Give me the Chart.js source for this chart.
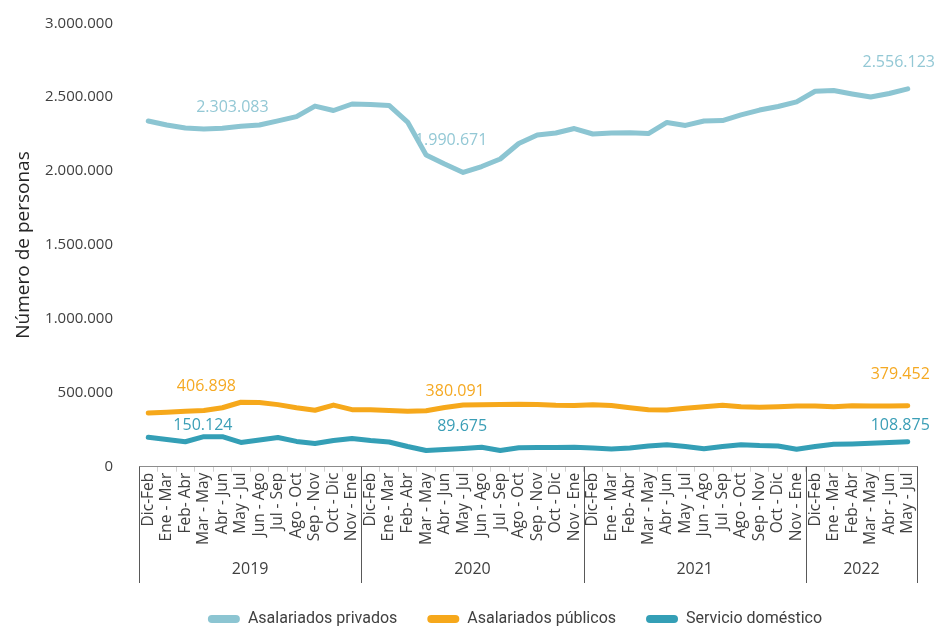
<!DOCTYPE html>
<html>
<head>
<meta charset="utf-8">
<script src="https://cdn.jsdelivr.net/npm/chart.js@4"></script>
<style>
  html, body { margin: 0; padding: 0; background: #ffffff; }
  canvas { display: block; }
</style>
</head>
<body>
<canvas id="chart" width="945" height="626"></canvas>
<script>
// ---------- DATA ----------
const periodNames = ['Dic-Feb', 'Ene - Mar', 'Feb- Abr', 'Mar - May', 'Abr - Jun', 'May - Jul',
                     'Jun - Ago', 'Jul - Sep', 'Ago - Oct', 'Sep - Nov', 'Oct - Dic', 'Nov - Ene'];
const years = ['2019', '2020', '2021', '2022'];
const periodsPerYear = [12, 12, 12, 6];

const categories = [
  ...periodNames, ...periodNames, ...periodNames, ...periodNames.slice(0, 6)
];

const seriesNames = ['Asalariados privados', 'Asalariados públicos', 'Servicio doméstico'];

const asalariadosPrivados = [
  2339000, 2312000, 2292000, 2285000, 2290000, 2303083, 2312000, 2340000, 2369000, 2440000, 2410000, 2454000,
  2451000, 2444000, 2332000, 2109000, 2048000, 1990671, 2031000, 2082000, 2187000, 2244000, 2258000, 2288000,
  2251000, 2258000, 2260000, 2254000, 2329000, 2309000, 2339000, 2342000, 2380000, 2413000, 2437000, 2468000,
  2540000, 2545000, 2522000, 2501000, 2525000, 2556123
];

const asalariadosPublicos = [
  363000, 369000, 375000, 380000, 399000, 436000, 434000, 420000, 399000, 382000, 417000, 386000,
  386000, 381000, 376000, 378000, 401000, 417000, 419000, 420000, 422000, 421000, 416000, 414000,
  419000, 414000, 399000, 386000, 384000, 395000, 405000, 416000, 405000, 403000, 406000, 411000,
  411000, 405000, 412000, 411000, 411000, 413000
];

const servicioDomestico = [
  199000, 184000, 169000, 203000, 203000, 164000, 181000, 198000, 171000, 157000, 177000, 191000,
  177000, 167000, 137000, 110000, 116000, 123000, 131000, 110000, 128000, 130000, 130000, 131000,
  127000, 120000, 127000, 140000, 149000, 137000, 122000, 137000, 149000, 143000, 140000, 118000,
  137000, 152000, 154000, 158000, 164000, 169000
];

// data labels shown in the chart (category index and text)
const labelIndexes = [5, 17, 41];
const privadosLabels = ['2.303.083', '1.990.671', '2.556.123'];
const publicosLabels = ['406.898', '380.091', '379.452'];
const domesticoLabels = ['150.124', '89.675', '108.875'];

const yTicks = { min: 0, max: 3000000, step: 500000 };

// ---------- STYLE ----------
const colors = ['#8CC5D2', '#F6A81B', '#349FB6'];
const labelColors = ['#93C8D5', '#F5A922', '#3A9EB6'];

function fmt(v) {
  return String(Math.round(v)).replace(/\B(?=(\d{3})+(?!\d))/g, '.');
}

// data labels plugin
const labelOffsets = [
  [[-8.5, -18.5], [-12, -32], [-9, -26]],
  [[-34.5, -15.6], [-8, -13.4], [-7.5, -31.7]],
  [[-38, -17.5], [-1, -21.8], [-7.5, -16]]
];
const dataLabelPlugin = {
  id: 'dataLabelsManual',
  afterDatasetsDraw(chart) {
    const ctx = chart.ctx;
    const texts = [privadosLabels, publicosLabels, domesticoLabels];
    ctx.save();
    ctx.font = '16px "Open Sans"';
    ctx.textAlign = 'center';
    ctx.textBaseline = 'middle';
    texts.forEach((arr, s) => {
      const meta = chart.getDatasetMeta(s);
      ctx.fillStyle = labelColors[s];
      labelIndexes.forEach((idx, k) => {
        const p = meta.data[idx];
        ctx.fillText(arr[k], p.x + labelOffsets[s][k][0], p.y + labelOffsets[s][k][1]);
      });
    });
    ctx.restore();
  }
};

// shift the legend so it is centred like the original
const legendShiftPlugin = {
  id: 'legendShift',
  afterLayout(chart) {
    const lg = chart.legend;
    if (lg) { lg.left -= 26; lg.width = lg.right - lg.left; }
  }
};

// year groups plugin (grouped category axis)
const yearGroupPlugin = {
  id: 'yearGroups',
  afterDraw(chart) {
    const ctx = chart.ctx;
    const xs = chart.scales.x;
    const half = (xs.getPixelForValue(1) - xs.getPixelForValue(0)) / 2;
    const top = xs.top;
    const bottom = 583;
    ctx.save();
    ctx.strokeStyle = '#595959';
    ctx.lineWidth = 1;
    ctx.fillStyle = '#404040';
    ctx.font = '16px "Open Sans"';
    ctx.textAlign = 'center';
    ctx.textBaseline = 'middle';
    let start = 0;
    const drawLine = (x) => {
      const xx = Math.round(x) + 0.5;
      ctx.beginPath();
      ctx.moveTo(xx, top);
      ctx.lineTo(xx, bottom);
      ctx.stroke();
    };
    years.forEach((yr, g) => {
      const left = xs.getPixelForValue(start) - half;
      const right = xs.getPixelForValue(start + periodsPerYear[g] - 1) + half;
      drawLine(left);
      if (g === years.length - 1) drawLine(right);
      ctx.fillText(yr, (left + right) / 2, 569);
      start += periodsPerYear[g];
    });
    ctx.restore();
  }
};

const chart = new Chart(document.getElementById('chart'), {
  type: 'line',
  data: {
    labels: categories,
    datasets: [
      { label: seriesNames[0], data: asalariadosPrivados, borderColor: colors[0], backgroundColor: colors[0] },
      { label: seriesNames[1], data: asalariadosPublicos, borderColor: colors[1], backgroundColor: colors[1] },
      { label: seriesNames[2], data: servicioDomestico, borderColor: colors[2], backgroundColor: colors[2] }
    ]
  },
  options: {
    responsive: false,
    animation: false,
    layout: { padding: { left: 8, right: 28, top: 23.3, bottom: 0 } },
    elements: {
      line: { borderWidth: 5, tension: 0, borderCapStyle: 'round', borderJoinStyle: 'round', fill: false },
      point: { radius: 0, hoverRadius: 0 }
    },
    plugins: {
      tooltip: { enabled: false },
      legend: {
        position: 'bottom',
        fullSize: false,
        maxHeight: 45,
        labels: {
          boxWidth: 32,
          boxHeight: 8,
          useBorderRadius: true,
          borderRadius: 4,
          padding: 30,
          color: '#404040',
          font: { family: 'Roboto', size: 16 },
          generateLabels(ch) {
            return Chart.defaults.plugins.legend.labels.generateLabels(ch).map(l => Object.assign(l, {
              lineWidth: 0, fillStyle: colors[l.datasetIndex]
            }));
          }
        }
      }
    },
    scales: {
      x: {
        offset: true,
        grid: { display: true, drawOnChartArea: false, drawTicks: true, tickLength: 5, color: '#d0d0d0', offset: true },
        border: { display: true, color: '#8c8c8c', width: 1 },
        ticks: {
          autoSkip: false,
          minRotation: 90,
          maxRotation: 90,
          padding: 1,
          color: '#404040',
          font: { family: 'Open Sans', size: 15.5 }
        },
        afterFit(scale) { scale.height = 114.3; }
      },
      y: {
        min: yTicks.min,
        max: yTicks.max,
        grid: { display: false, drawTicks: true, tickLength: 26 },
        border: { display: false },
        ticks: {
          stepSize: yTicks.step,
          padding: 0,
          color: '#404040',
          font: { family: 'Open Sans', size: 15 },
          callback: (v) => fmt(v)
        },
        title: {
          display: true,
          text: 'Número de personas',
          color: '#262626',
          font: { family: 'Open Sans', size: 19 },
          padding: { top: 4, bottom: 0 }
        },
        afterFit(scale) { scale.width = 131; }
      }
    }
  },
  plugins: [dataLabelPlugin, legendShiftPlugin, yearGroupPlugin]
});
</script>
</body>
</html>
